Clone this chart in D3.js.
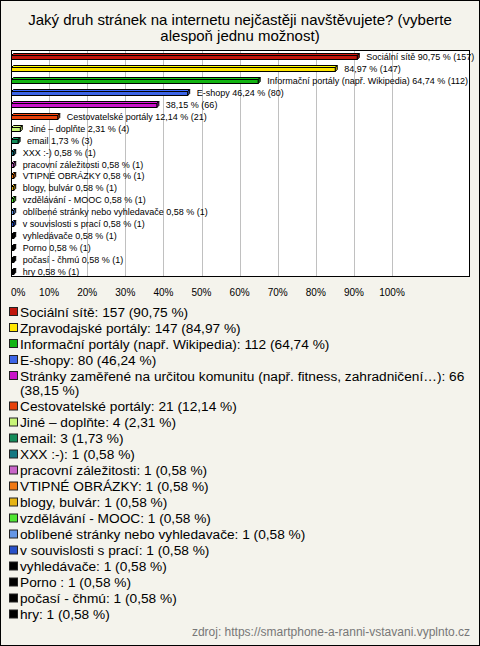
<!DOCTYPE html>
<html><head><meta charset="utf-8">
<script src="https://cdn.jsdelivr.net/npm/d3@7"></script>
<style>
html,body{margin:0;padding:0;background:#f4f3ec;}
svg{display:block;font-family:"Liberation Sans",Arial,sans-serif;}
</style></head>
<body><svg id="c" width="480" height="646"></svg>
<script>
const titleLines = ["Jaký druh stránek na internetu nejčastěji navštěvujete? (vyberte", "alespoň jednu možnost)"];
const categories = ["Sociální sítě","Zpravodajské portály","Informační portály (např. Wikipedia)","E-shopy","Stránky zaměřené na určitou komunitu (např. fitness, zahradničení…)","Cestovatelské portály","Jiné – doplňte","email","XXX :-)","pracovní záležitosti","VTIPNÉ OBRÁZKY","blogy, bulvár","vzdělávání - MOOC","oblíbené stránky nebo vyhledavače","v souvislosti s prací","vyhledávače","Porno ","počasí - čhmú","hry"];
const barLabelNames = ["Sociální sítě","","Informační portály (např. Wikipedia)","E-shopy","","Cestovatelské portály","Jiné – doplňte","email","XXX :-)","pracovní záležitosti","VTIPNÉ OBRÁZKY","blogy, bulvár","vzdělávání - MOOC","oblíbené stránky nebo vyhledavače","v souvislosti s prací","vyhledávače","Porno ","počasí - čhmú","hry"];
const counts = [157,147,112,80,66,21,4,3,1,1,1,1,1,1,1,1,1,1,1];
const percents = [90.75,84.97,64.74,46.24,38.15,12.14,2.31,1.73,0.58,0.58,0.58,0.58,0.58,0.58,0.58,0.58,0.58,0.58,0.58];
const colors = ["#c0160c","#ffe600","#12b412","#3c64e6","#c814c8","#e6400a","#c8f578","#148c5a","#147882","#c864c8","#f07814","#e6b414","#50e632","#6496e6","#2850c8","#000000","#000000","#000000","#000000"];
const tickValues = [0,10,20,30,40,50,60,70,80,90,100];
const source = "zdroj: https://smartphone-a-ranni-vstavani.vyplnto.cz";

(function(){
const fmt = v => d3.format(".2f")(v).replace(".", ",");
const svg = d3.select("#c");
svg.append("rect").attr("x",0.5).attr("y",0.5).attr("width",479).attr("height",645).attr("fill","#f4f3ec").attr("stroke","#000");

svg.append("g").selectAll("text").data(titleLines).join("text")
  .attr("x",240).attr("y",(d,i)=>25+i*16).attr("text-anchor","middle")
  .attr("font-size",15).attr("fill","#000").text(d=>d);

const pL=11, pR=470, pT=50, pB=277;
svg.append("rect").attr("x",pL+0.5).attr("y",pT+0.5).attr("width",pR-pL-1).attr("height",pB-pT-1).attr("fill","#fff");
const x = d3.scaleLinear().domain([0,100]).range([pL,392]);
const y = d3.scaleBand().domain(d3.range(categories.length)).range([pT,pB]);

svg.append("g").selectAll("line").data(tickValues.slice(1)).join("line")
  .attr("x1",d=>Math.round(x(d))+0.5).attr("x2",d=>Math.round(x(d))+0.5)
  .attr("y1",pT).attr("y2",pB).attr("stroke","#c0c0c0");

svg.append("rect").attr("x",pL+0.5).attr("y",pT+0.5).attr("width",pR-pL-1).attr("height",pB-pT-1).attr("fill","none").attr("stroke","#000");

const d=2, h=4;
const rows = categories.map((c,i)=>({i, c, v:percents[i], n:counts[i], col:colors[i], lab:barLabelNames[i]}));
const bars = svg.append("g").selectAll("g").data(rows).join("g");
bars.each(function(r){
  const g=d3.select(this);
  const x0=x(0)+0.5, x1=x(r.v)+0.5;
  const cy=Math.round(y(r.i)+y.bandwidth()/2)+0.5;
  const yt=cy-1;
  const c=d3.color(r.col);
  g.append("path").attr("d",`M${x0},${yt}L${x0+d},${yt-d}L${x1+d},${yt-d}L${x1},${yt}Z`)
    .attr("fill",c.brighter(0.3)).attr("stroke","#000").attr("stroke-width",1);
  g.append("path").attr("d",`M${x1},${yt}L${x1+d},${yt-d}L${x1+d},${yt+h-d}L${x1},${yt+h}Z`)
    .attr("fill",c.darker(0.5)).attr("stroke","#000").attr("stroke-width",1);
  g.append("rect").attr("x",x0).attr("y",yt).attr("width",x1-x0).attr("height",h)
    .attr("fill",r.col).attr("stroke","#000").attr("stroke-width",1);
  g.append("text").attr("x",x1+d+7).attr("y",cy).attr("dy","0.35em")
    .attr("font-size",9).attr("fill","#000")
    .text((r.lab? r.lab+" ":"")+fmt(r.v)+" % ("+r.n+")");
});

svg.append("g").selectAll("text").data(tickValues).join("text")
  .attr("x",v=>v===0?pL:x(v)).attr("y",292).attr("dy","0.35em")
  .attr("text-anchor",v=>v===0?"start":"middle")
  .attr("font-size",10).attr("fill","#000").text(v=>v+"%");

const lg = svg.append("g");
const fs = 13.7, wrapW = 456;
let ly = 312;
rows.forEach(r=>{
  const full = r.c+": "+r.n+" ("+fmt(r.v)+" %)";
  lg.append("rect").attr("x",9.5).attr("y",ly-4.5).attr("width",8).attr("height",8)
    .attr("fill",r.col).attr("stroke","#222");
  const t = lg.append("text").attr("x",20).attr("y",ly).attr("dy","0.35em").attr("font-size",fs).attr("fill","#000").text(full);
  if (t.node().getComputedTextLength() > wrapW) {
    const words = full.split(" ");
    let line1 = [];
    let i=0;
    for (; i<words.length; i++){
      t.text(line1.concat(words[i]).join(" "));
      if (t.node().getComputedTextLength() > wrapW) break;
      line1.push(words[i]);
    }
    t.text(line1.join(" "));
    ly += 14.5;
    lg.append("text").attr("x",20).attr("y",ly).attr("dy","0.35em").attr("font-size",fs).attr("fill","#000").text(words.slice(i).join(" "));
  }
  ly += 16;
});

svg.append("text").attr("x",470).attr("y",632).attr("dy","0.35em").attr("text-anchor","end")
  .attr("font-size",12).attr("fill","#777").text(source);
})();
</script></body></html>
